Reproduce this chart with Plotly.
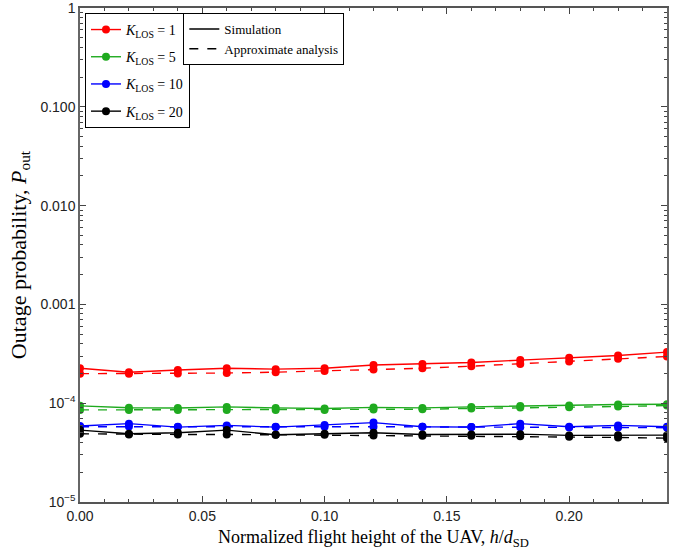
import plotly.graph_objects as go

x_vals = [0.00, 0.02, 0.04, 0.06, 0.08, 0.10, 0.12, 0.14, 0.16, 0.18, 0.20, 0.22, 0.24]

sim_k1 = [2.26e-4, 2.06e-4, 2.17e-4, 2.26e-4, 2.21e-4, 2.26e-4, 2.44e-4, 2.50e-4, 2.58e-4, 2.73e-4, 2.88e-4, 3.04e-4, 3.29e-4]
apx_k1 = [1.99e-4, 1.99e-4, 2.00e-4, 2.02e-4, 2.06e-4, 2.12e-4, 2.19e-4, 2.26e-4, 2.37e-4, 2.50e-4, 2.64e-4, 2.81e-4, 2.97e-4]
sim_k5 = [0.940e-4, 0.900e-4, 0.895e-4, 0.917e-4, 0.896e-4, 0.883e-4, 0.907e-4, 0.896e-4, 0.917e-4, 0.939e-4, 0.947e-4, 0.970e-4, 0.977e-4]
apx_k5 = [0.855e-4, 0.855e-4, 0.855e-4, 0.855e-4, 0.855e-4, 0.855e-4, 0.865e-4, 0.869e-4, 0.885e-4, 0.904e-4, 0.910e-4, 0.925e-4, 0.947e-4]
sim_k10 = [0.587e-4, 0.621e-4, 0.573e-4, 0.596e-4, 0.573e-4, 0.600e-4, 0.636e-4, 0.578e-4, 0.573e-4, 0.621e-4, 0.578e-4, 0.596e-4, 0.578e-4]
apx_k10 = [0.578e-4, 0.580e-4, 0.578e-4, 0.578e-4, 0.578e-4, 0.578e-4, 0.578e-4, 0.578e-4, 0.575e-4, 0.572e-4, 0.569e-4, 0.567e-4, 0.565e-4]
sim_k20 = [0.534e-4, 0.490e-4, 0.502e-4, 0.534e-4, 0.479e-4, 0.490e-4, 0.502e-4, 0.483e-4, 0.483e-4, 0.486e-4, 0.472e-4, 0.475e-4, 0.475e-4]
apx_k20 = [0.490e-4, 0.483e-4, 0.483e-4, 0.483e-4, 0.479e-4, 0.479e-4, 0.472e-4, 0.468e-4, 0.468e-4, 0.464e-4, 0.458e-4, 0.450e-4, 0.443e-4]

k_labels = ["1", "5", "10", "20"]
colors = ["#ff0000", "#1faa1f", "#0000ff", "#000000"]

y_tickvals = [1e-5, 1e-4, 1e-3, 1e-2, 1e-1, 1]
y_ticktext = ["10<sup>−5</sup>", "10<sup>−4</sup>", "0.001", "0.010", "0.100", "1"]
x_tickvals = [0.00, 0.05, 0.10, 0.15, 0.20]
x_ticktext = ["0.00", "0.05", "0.10", "0.15", "0.20"]
x_minor = [0.01, 0.02, 0.03, 0.04, 0.06, 0.07, 0.08, 0.09, 0.11, 0.12, 0.13, 0.14,
           0.16, 0.17, 0.18, 0.19, 0.21, 0.22, 0.23]
y_minor = [m * 10.0 ** e for e in range(-5, 0) for m in range(2, 10)]

sims = [sim_k1, sim_k5, sim_k10, sim_k20]
apxs = [apx_k1, apx_k5, apx_k10, apx_k20]

fig = go.Figure()
for k, c, s, a in zip(k_labels, colors, sims, apxs):
    fig.add_trace(go.Scatter(
        x=x_vals, y=s, mode="lines+markers",
        line=dict(color=c, width=1.4),
        marker=dict(color=c, size=8, symbol="circle"),
        name=f"<i>K</i><sub>LOS</sub> = {k}", legend="legend", legendgroup="k" + k,
    ))
    fig.add_trace(go.Scatter(
        x=x_vals, y=a, mode="lines+markers",
        line=dict(color=c, width=1.4, dash="dash"),
        marker=dict(color=c, size=8, symbol="circle"),
        showlegend=False,
    ))

fig.add_trace(go.Scatter(x=[None], y=[None], mode="lines",
                         line=dict(color="black", width=1.5),
                         name="Simulation", legend="legend2"))
fig.add_trace(go.Scatter(x=[None], y=[None], mode="lines",
                         line=dict(color="black", width=1.5, dash="dash"),
                         name="Approximate analysis", legend="legend2"))
# invisible trace to activate minor-tick overlay axes
fig.add_trace(go.Scatter(x=[None], y=[None], xaxis="x2", yaxis="y2",
                         showlegend=False, hoverinfo="skip"))

serif = "Liberation Serif, DejaVu Serif, serif"
sans = "Liberation Sans, Arial, sans-serif"

fig.update_layout(
    width=675, height=557,
    margin=dict(l=80, r=8, t=8, b=55),
    plot_bgcolor="white", paper_bgcolor="white",
    xaxis=dict(
        range=[0, 0.24], tickvals=x_tickvals, ticktext=x_ticktext,
        ticks="inside", ticklen=6, mirror="allticks", showline=True,
        linecolor="#555", linewidth=1.5, showgrid=False, zeroline=False,
        tickfont=dict(family=sans, size=14, color="#222"), automargin=False,
        ticklabeloverflow="allow",
        title=dict(text="Normalized flight height of the UAV, <i>h</i>/<i>d</i><sub>SD</sub>",
                   font=dict(family=serif, size=18, color="black"), standoff=8),
    ),
    yaxis=dict(
        type="log", range=[-5, 0], tickvals=y_tickvals, ticktext=y_ticktext,
        ticks="inside", ticklen=6, mirror="allticks", showline=True,
        linecolor="#666", linewidth=1.5, showgrid=False, zeroline=False,
        tickfont=dict(family=sans, size=14, color="#222"), automargin=False,
        ticklabeloverflow="allow",
        title=dict(text="Outage probability, <i>P</i><sub>out</sub>",
                   font=dict(family=serif, size=22, color="black"), standoff=8),
    ),
    xaxis2=dict(
        overlaying="x", range=[0, 0.24], tickvals=x_minor, ticks="inside",
        ticklen=3, mirror="allticks", showticklabels=False, showgrid=False,
        zeroline=False, showline=False, tickcolor="#444", automargin=False,
        anchor="y2",
    ),
    yaxis2=dict(
        overlaying="y", type="log", range=[-5, 0], tickvals=y_minor, ticks="inside",
        ticklen=3, mirror="allticks", showticklabels=False, showgrid=False,
        zeroline=False, showline=False, tickcolor="#444", automargin=False,
        anchor="x2",
    ),
    legend=dict(
        x=0.0085, y=0.99, xanchor="left", yanchor="top",
        bordercolor="black", borderwidth=1, bgcolor="white",
        font=dict(family=serif, size=14, color="black"),
        tracegroupgap=6, itemwidth=30,
    ),
    legend2=dict(
        x=0.176, y=0.99, xanchor="left", yanchor="top",
        bordercolor="black", borderwidth=1, bgcolor="white",
        font=dict(family=serif, size=13, color="black"),
        itemwidth=30, tracegroupgap=0,
    ),
)

fig.write_html("out.html", config={"displayModeBar": False},
               post_script="document.body.style.margin='0';")
